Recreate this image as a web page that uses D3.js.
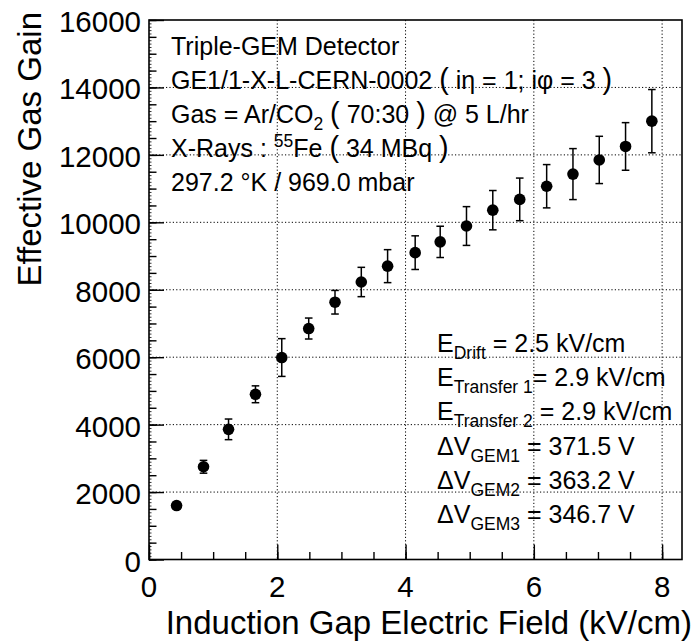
<!DOCTYPE html>
<html>
<head>
<meta charset="utf-8">
<script src="https://cdn.jsdelivr.net/npm/d3@7"></script>
<style>
  html, body { margin: 0; padding: 0; background: #fff; }
  svg { display: block; }
  text { font-family: "Liberation Sans", Arial, Helvetica, sans-serif; fill: #000; }
</style>
</head>
<body>
<svg id="chart" width="695" height="642"></svg>
<script>
// ---- data ----
const fieldValues = [0.43, 0.85, 1.24, 1.66, 2.07, 2.49, 2.90, 3.31, 3.72, 4.15, 4.54, 4.95, 5.36, 5.78, 6.20, 6.61, 7.02, 7.43, 7.84];
const gainValues  = [1600, 2750, 3860, 4900, 5990, 6850, 7630, 8230, 8700, 9100, 9420, 9890, 10360, 10680, 11070, 11430, 11850, 12250, 13000];
const gainErrors  = [90, 190, 306, 250, 560, 311, 350, 435, 489, 499, 464, 575, 583, 632, 642, 756, 701, 706, 938];
const xTickValues = [0, 2, 4, 6, 8];
const yTickValues = [0, 2000, 4000, 6000, 8000, 10000, 12000, 14000, 16000];
const xTitle = "Induction Gap Electric Field (kV/cm)";
const yTitle = "Effective Gas Gain";

const svg = d3.select("#chart");
const L = 149, R = 682, T = 20, B = 559.5;
const x = d3.scaleLinear().domain([0, 8.31]).range([L, R]);
const y = d3.scaleLinear().domain([0, 16000]).range([B, T]);

// grid
const grid = svg.append("g").attr("stroke", "#000").attr("stroke-width", 1)
  .attr("stroke-dasharray", "1.2,2.2");
grid.selectAll("line.gx").data(xTickValues.filter(v => v > 0)).join("line")
  .attr("x1", d => x(d)).attr("x2", d => x(d)).attr("y1", T).attr("y2", B);
grid.selectAll("line.gy").data(yTickValues.filter(v => v > 0 && v < 16000)).join("line")
  .attr("x1", L).attr("x2", R).attr("y1", d => y(d)).attr("y2", d => y(d));

// axes (ticks inside)
const xAxis = d3.axisBottom(x).tickValues(xTickValues).tickSize(-15).tickFormat("");
const xMinor = d3.axisBottom(x).tickValues(d3.range(0, 8.31, 0.5)).tickSize(-7.5).tickFormat("");
const yAxis = d3.axisLeft(y).tickValues(yTickValues).tickSize(-15).tickFormat("");
const yMinor = d3.axisLeft(y).tickValues(d3.range(0, 16001, 500)).tickSize(-7.5).tickFormat("");
const yTert = d3.axisLeft(y).tickValues(d3.range(0, 16001, 100)).tickSize(-2.5).tickFormat("");

function styleAxis(g) {
  g.select(".domain").remove();
  g.selectAll(".tick line").attr("stroke", "#000").attr("stroke-width", 1.4);
}
svg.append("g").attr("transform", `translate(0,${B})`).call(xAxis).call(styleAxis);
svg.append("g").attr("transform", `translate(0,${B})`).call(xMinor).call(styleAxis);
svg.append("g").attr("transform", `translate(${L},0)`).call(yAxis).call(styleAxis);
svg.append("g").attr("transform", `translate(${L},0)`).call(yMinor).call(styleAxis);
svg.append("g").attr("transform", `translate(${L},0)`).call(yTert).call(g => {
  g.select(".domain").remove();
  g.selectAll(".tick line").attr("stroke", "#000").attr("stroke-width", 0.8);
});

// frame
svg.append("rect").attr("x", L).attr("y", T).attr("width", R - L).attr("height", B - T)
  .attr("fill", "none").attr("stroke", "#000").attr("stroke-width", 1.6);

// tick labels
svg.append("g").selectAll("text").data(xTickValues).join("text")
  .attr("x", d => x(d)).attr("y", 597).attr("text-anchor", "middle")
  .attr("font-size", 29.5).text(d => d);
svg.append("g").selectAll("text").data(yTickValues).join("text")
  .attr("x", 141).attr("y", d => y(d) + 12).attr("text-anchor", "end")
  .attr("font-size", 29.5).text(d => d);

// axis titles
svg.append("text").attr("x", 692).attr("y", 634).attr("text-anchor", "end")
  .attr("font-size", 33).text(xTitle);
svg.append("text").attr("transform", "translate(41,12) rotate(-90)").attr("text-anchor", "end")
  .attr("font-size", 33).text(yTitle);

// data: error bars + markers
const pts = fieldValues.map((v, i) => ({ x: v, y: gainValues[i], e: gainErrors[i] }));
const eb = svg.append("g").attr("stroke", "#000").attr("stroke-width", 1.5);
eb.selectAll("line.v").data(pts).join("line")
  .attr("x1", d => x(d.x)).attr("x2", d => x(d.x))
  .attr("y1", d => y(d.y + d.e)).attr("y2", d => y(d.y - d.e));
eb.selectAll("line.t").data(pts).join("line")
  .attr("x1", d => x(d.x) - 3.8).attr("x2", d => x(d.x) + 3.8)
  .attr("y1", d => y(d.y + d.e)).attr("y2", d => y(d.y + d.e));
eb.selectAll("line.b").data(pts).join("line")
  .attr("x1", d => x(d.x) - 3.8).attr("x2", d => x(d.x) + 3.8)
  .attr("y1", d => y(d.y - d.e)).attr("y2", d => y(d.y - d.e));
svg.append("g").selectAll("circle").data(pts).join("circle")
  .attr("cx", d => x(d.x)).attr("cy", d => y(d.y)).attr("r", 5.8).attr("fill", "#000");

// annotations
function richLine(parent, xPos, yPos, parts, size) {
  const t = parent.append("text").attr("x", xPos).attr("y", yPos).attr("font-size", size);
  parts.forEach(p => {
    const s = t.append("tspan").text(p.t);
    if (p.sub) s.attr("font-size", size * 0.7).attr("dy", 7);
    if (p.sup) s.attr("font-size", size * 0.7).attr("dy", -10);
    if (p.back) s.attr("dy", p.back);
    if (p.paren) s.attr("font-size", size * 1.15).attr("font-weight", 300);
  });
  return t;
}
const ann = svg.append("g");
const fs = 25;
richLine(ann, 171, 55, [{ t: "Triple-GEM Detector" }], fs);
richLine(ann, 171, 89, [{ t: "GE1/1-X-L-CERN-0002 " }, { t: "(", paren: true }, { t: " iη = 1; iφ = 3 " }, { t: ")", paren: true }], fs);
richLine(ann, 171, 123, [{ t: "Gas = Ar/CO" }, { t: "2", sub: true }, { t: " ", back: -7 }, { t: "(", paren: true }, { t: " 70:30 " }, { t: ")", paren: true }, { t: " @ 5 L/hr" }], fs);
richLine(ann, 171, 157, [{ t: "X-Rays : " }, { t: "55", sup: true }, { t: "Fe ", back: 10 }, { t: "(", paren: true }, { t: " 34 MBq " }, { t: ")", paren: true }], fs);
richLine(ann, 171, 191, [{ t: "297.2 °K / 969.0 mbar" }], fs);

const rx = 437;
richLine(ann, rx, 352, [{ t: "E" }, { t: "Drift", sub: true }, { t: " = 2.5 kV/cm", back: -7 }], fs);
richLine(ann, rx, 386, [{ t: "E" }, { t: "Transfer 1", sub: true }, { t: "= 2.9 kV/cm", back: -7 }], fs);
richLine(ann, rx, 420, [{ t: "E" }, { t: "Transfer 2", sub: true }, { t: " = 2.9 kV/cm", back: -7 }], fs);
richLine(ann, rx, 455, [{ t: "ΔV" }, { t: "GEM1", sub: true }, { t: " = 371.5 V", back: -7 }], fs);
richLine(ann, rx, 489, [{ t: "ΔV" }, { t: "GEM2", sub: true }, { t: " = 363.2 V", back: -7 }], fs);
richLine(ann, rx, 523, [{ t: "ΔV" }, { t: "GEM3", sub: true }, { t: " = 346.7 V", back: -7 }], fs);
</script>
</body>
</html>
